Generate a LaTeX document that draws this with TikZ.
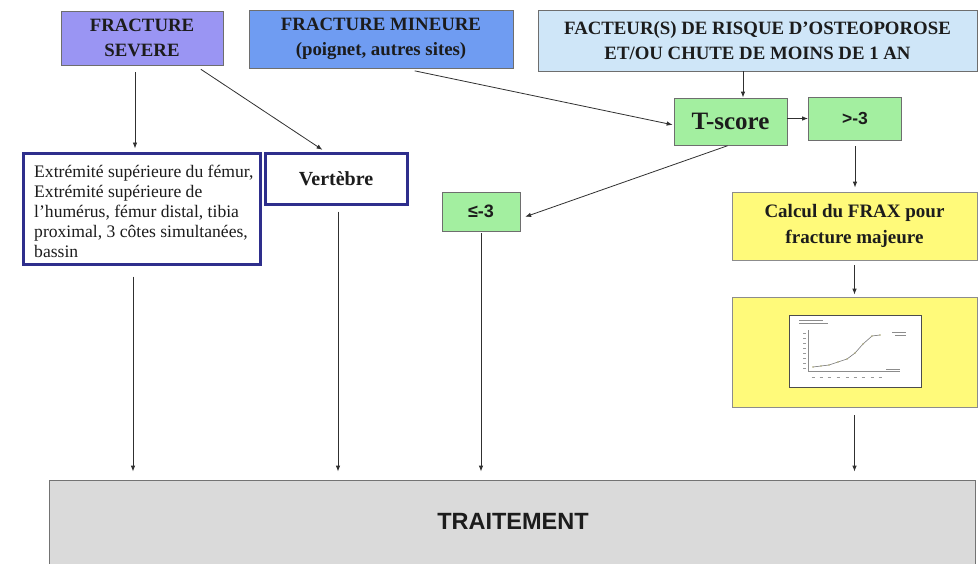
\documentclass[tikz,border=0pt]{standalone}
\usepackage{fontspec}
\setmainfont{Liberation Serif}
\newfontfamily\arialf{Liberation Sans}
\usetikzlibrary{arrows.meta,calc}
\definecolor{txt}{HTML}{1C1C1C}
\definecolor{sevc}{HTML}{9A95F3}
\definecolor{minc}{HTML}{6F9CF2}
\definecolor{facc}{HTML}{CFE6F8}
\definecolor{grnc}{HTML}{A3EFA0}
\definecolor{yelc}{HTML}{FFFA7A}
\definecolor{gryc}{HTML}{DADADA}
\definecolor{navy}{HTML}{2E2E8C}
\definecolor{bord}{HTML}{6E6E6E}
\definecolor{arrc}{HTML}{303030}
\tikzset{
  box/.style={draw=bord, line width=0.8pt, text=txt, align=center, inner sep=0pt},
  ttl/.style={font=\fontsize{18.8}{24.5}\selectfont\bfseries},
  navybox/.style={draw=navy, line width=3pt, fill=white, text=txt, inner sep=0pt},
  arr/.style={draw=arrc, line width=0.8pt, -{Latex[length=6pt,width=4.5pt]}},
  tiny/.style={draw=black!45, line width=0.6pt}
}
\begin{document}
\begin{tikzpicture}[x=1pt,y=-1pt]
\useasboundingbox[fill=white] (0,0) rectangle (978,563);

% top boxes
\node[box, ttl, fill=sevc, minimum width=162, minimum height=54] (sev) at (142,38) {FRACTURE\\SEVERE};
\node[box, ttl, fill=minc, minimum width=264, minimum height=58] (min) at (381,39) {FRACTURE MINEURE\\(poignet, autres sites)};
\node[box, ttl, fill=facc, minimum width=439, minimum height=61] (fac) at (757.5,40.5) {FACTEUR(S) DE RISQUE D’OSTEOPOROSE\\ET/OU CHUTE DE MOINS DE 1 AN};

% green boxes
\node[box, fill=grnc, minimum width=113, minimum height=47, font=\fontsize{25}{27}\selectfont\bfseries] (ts) at (730.5,121.5) {T-score};
\node[box, fill=grnc, minimum width=93, minimum height=43, font=\arialf\fontsize{17.5}{20}\selectfont\bfseries] (gt) at (855,118.5) {>-3};
\node[box, fill=grnc, minimum width=78, minimum height=39, font=\arialf\fontsize{18}{20}\selectfont\bfseries] (le) at (481,211.5) {≤-3};

% yellow boxes
\node[box, fill=yelc, draw=black!45, minimum width=245, minimum height=68, font=\fontsize{19}{26}\selectfont\bfseries] (frax) at (854.5,226) {Calcul du FRAX pour\\fracture majeure};
\node[box, fill=yelc, draw=black!45, minimum width=245, minimum height=110] (chart) at (854.5,352) {};
\node[draw=black!70, line width=1pt, fill=white, minimum width=132, minimum height=72, inner sep=0pt] (chartin) at (855,351) {};
% small chart inside
\draw[tiny] (799,320) -- (823,320);
\draw[tiny] (799,323) -- (828,323);
\draw[tiny] (808,330) -- (808,371) -- (900,371);
\foreach \yy in {333,338,343,348,353,358,363,368}{\draw[black!40, line width=0.4pt] (803,\yy) -- (806,\yy);}
\foreach \xx in {813,821,829,838,847,855,863,872,880}{\draw[black!40, line width=0.5pt] (\xx-1.5,377) -- (\xx+1.5,377);}
\draw[black!55, line width=0.6pt] (813,367) -- (821,366) -- (829,365) -- (838,362) -- (847,359) -- (855,353) -- (863,344) -- (872,336) -- (880,335);
\foreach \p in {(813,367),(821,366),(829,365),(838,362),(847,359),(855,353),(863,344),(872,336),(880,335)}{\fill[olive!60!black!50] \p circle (0.9);}
\draw[tiny] (892,332) -- (906,332);
\draw[tiny] (895,335) -- (906,335);
\draw[tiny] (886,369) -- (900,369);

% navy boxes
\node[navybox, minimum width=237, minimum height=111] (ext) at (141.5,208.5) {};
\node[anchor=west, text=txt, align=left, inner sep=0pt, font=\fontsize{17.6}{20}\selectfont] (extt) at (34,211) {Extrémité supérieure du fémur,\\Extrémité supérieure de\\l’humérus, fémur distal, tibia\\proximal, 3 côtes simultanées,\\bassin};
\node[navybox, minimum width=142, minimum height=51, font=\fontsize{20}{22}\selectfont\bfseries] (ver) at (336,178.5) {Vertèbre};

% bottom box
\node[box, fill=gryc, draw=black!55, minimum width=926, minimum height=92] (tr) at (512,526) {};
\node[text=txt, inner sep=0pt, font=\arialf\fontsize{23.5}{26}\selectfont\bfseries] (trt) at (513,521) {TRAITEMENT};

% connectors
\draw[arr, shorten <=7pt, shorten >=3pt] ([xshift=-7pt]sev.south) -- ([xshift=-7pt]sev.south |- ext.north);
\draw[arr, shorten <=7pt, shorten >=3pt] ([xshift=53pt]sev.south) -- ([xshift=-11pt]ver.north);
\draw[arr, shorten <=12pt, shorten >=1pt] ([xshift=22pt]min.south) -- ([yshift=-3.5pt]ts.west);
\draw[arr] ([xshift=12.5pt]ts.north |- fac.south) -- ([xshift=12.5pt]ts.north);
\draw[arr] (ts.east |- gt.west) -- (gt.west);
\draw[arr, shorten <=1pt, shorten >=5pt] ([xshift=-2pt]ts.south) -- ([yshift=-7pt]le.east);
\draw[arr, shorten <=6pt, shorten >=4pt] (gt.south) -- (gt.south |- frax.north);
\draw[arr, shorten <=5pt, shorten >=2pt] (frax.south) -- (frax.south |- chart.north);
\draw[arr, shorten <=11pt, shorten >=8pt] ([xshift=-8.5pt]ext.south) -- ([xshift=-8.5pt]ext.south |- tr.north);
\draw[arr, shorten <=6pt, shorten >=8pt] ([xshift=2pt]ver.south) -- ([xshift=2pt]ver.south |- tr.north);
\draw[arr, shorten <=2pt, shorten >=8pt] (le.south) -- (le.south |- tr.north);
\draw[arr, shorten <=8pt, shorten >=8pt] (chart.south) -- (chart.south |- tr.north);
\end{tikzpicture}
\end{document}
